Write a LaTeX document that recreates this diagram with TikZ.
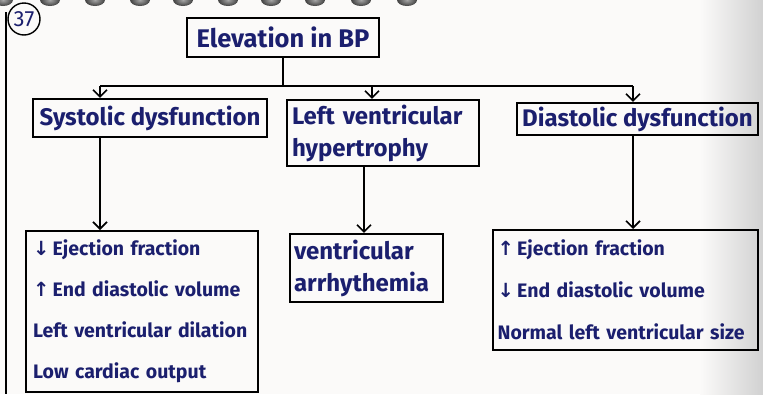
\documentclass[tikz,border=0pt]{standalone}
\usepackage{fontspec}
\setmainfont{Fira Sans}
\newfontfamily\arrowfont{DejaVu Sans}
\usetikzlibrary{arrows.meta,calc}
\definecolor{ink}{HTML}{1B1F6E}
\definecolor{paper}{HTML}{FBFAF9}
\tikzset{
  box/.style={draw=black, line width=2.2pt, inner sep=3pt, text=ink, font=\fontsize{24}{26}\selectfont\bfseries},
  twoline/.style={box, align=left, font=\fontsize{24}{32}\selectfont\bfseries},
  listbox/.style={box, align=left, anchor=north west, inner xsep=6pt, inner ysep=2pt, font=\fontsize{19.5}{41}\selectfont\bfseries},
  link/.style={draw=black, line width=1.6pt},
  arr/.style={link, -{Straight Barb[length=7pt,width=14pt,line width=1.6pt]}},
}
\newcommand{\upar}{{\arrowfont\bfseries ↑}\,}
\newcommand{\dnar}{{\arrowfont\bfseries ↓}\,}
\begin{document}
\begin{tikzpicture}[x=1pt,y=-1pt]
  \useasboundingbox (0,0) rectangle (763,394);
  % paper
  \fill[paper] (0,0) rectangle (763,394);
  \shade[left color=paper, right color=black!18] (700,0) rectangle (763,394);
  % binder rings along the top edge
  \foreach \rx in {3,50,95,140,183,228,271,315,361,407}
    \shade[inner color=black!35, outer color=black!75] (\rx,0) ellipse (10pt and 6pt);
  % margin line and page number
  \draw[line width=1.6pt] (6,12) -- (6,394);
  \node[draw=black, circle, line width=1.4pt, inner sep=0pt, minimum size=32pt, text=ink,
        font=\fontsize{22}{22}\selectfont] (page) at (24,19) {37};

  % top level
  \node[box, minimum width=192pt, minimum height=39pt, font=\fontsize{25.5}{26}\selectfont\bfseries] (root) at (283,37.5) {Elevation in BP};

  % second level
  \node[box, minimum width=234pt, minimum height=38pt] (sys) at (150,118) {Systolic dysfunction};
  \node[twoline, minimum width=192pt, minimum height=66pt, text width=182pt] (lvh) at (383,133)
    {Left ventricular\\hypertrophy};
  \node[box, minimum width=241pt, minimum height=32pt] (dia) at (637.5,119) {Diastolic dysfunction};

  % third level
  \node[listbox, minimum width=232pt, minimum height=161pt, text width=218pt] (sysd) at (25,230)
    {\dnar Ejection fraction\\\upar End diastolic volume\\Left ventricular dilation\\Low cardiac output};
  \node[twoline, minimum width=153pt, minimum height=68pt, text width=145pt] (lvhd) at (366.5,268)
    {ventricular\\arrhythemia};
  \node[listbox, minimum width=265pt, minimum height=120pt, text width=256pt, inner xsep=4pt, inner ysep=5pt,
        font=\fontsize{19.5}{42}\selectfont\bfseries] (diad) at (492,229)
    {\upar Ejection fraction\\\dnar End diastolic volume\\Normal left ventricular size};

  % branching from the top box
  \coordinate (busL) at (100,86);
  \coordinate (busM) at (372,86);
  \coordinate (busR) at (633,86);
  \draw[link] (root.south) -- (root.south |- busL);
  \draw[link] (busL) -- (busR);
  \draw[arr] (busL) -- (busL |- sys.north);
  \draw[arr] (busM) -- (busM |- lvh.north);
  \draw[arr] (busR) -- (busR |- dia.north);

  % down to the details
  \coordinate (colL) at (100,0);
  \coordinate (colM) at (364,0);
  \coordinate (colR) at (633,0);
  \draw[arr] (sys.south -| colL) -- (colL |- sysd.north);
  \draw[arr] (lvh.south -| colM) -- (colM |- lvhd.north);
  \draw[arr] (dia.south -| colR) -- (colR |- diad.north);
\end{tikzpicture}
\end{document}
